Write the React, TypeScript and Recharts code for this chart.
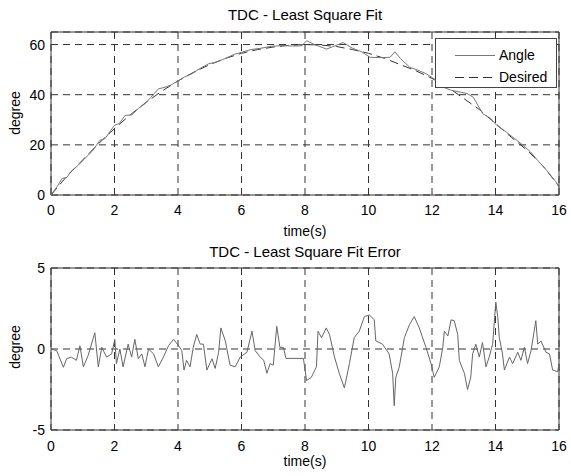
import {
  LineChart,
  Line,
  XAxis,
  YAxis,
  CartesianGrid,
  ReferenceArea,
  Legend,
} from 'recharts'

const X_TICKS = [0, 2, 4, 6, 8, 10, 12, 14, 16]
const FIT_TICKS = [0, 20, 40, 60]
const ERR_TICKS = [-5, 0, 5]

const ANGLE_T = [
  0, 0.2, 0.35, 0.5, 0.6, 0.86, 1.1, 1.3, 1.54, 1.7, 2.0, 2.15, 2.33, 2.55, 2.75, 2.96,
  3.15, 3.38, 3.6, 3.8, 4.01, 4.2, 4.43, 4.7, 4.96, 5.2, 5.5, 5.75, 6.0, 6.3, 6.6, 6.95,
  7.3, 7.6, 7.9, 8.05, 8.3, 8.68, 8.95, 9.2, 9.5, 9.8, 10.05, 10.4, 10.68, 10.83, 11.0,
  11.3, 11.55, 11.83, 12.1, 12.35, 12.62, 12.9, 13.1, 13.3, 13.6, 13.85, 14.04, 14.3,
  14.6, 14.85, 15.1, 15.35, 15.6, 15.9, 16,
]
const ANGLE = [
  0, 3.5, 6.6, 7, 9, 11.9, 15, 17.5, 21.8, 22.5, 27.8, 28.5, 31.7, 32, 34.5, 36.4,
  39, 42.3, 43, 44, 45.6, 47, 48.3, 50.5, 52.3, 53, 54.5, 56, 56.9, 58, 58.5, 59.3,
  59.6, 59.4, 59.5, 61.5, 60, 58.2, 59.5, 60.8, 58.5, 57, 54.9, 54.8, 54.9, 57.1, 54.5,
  50.9, 49.8, 48.3, 46, 43, 41.7, 41, 40.5, 39, 32.4, 30.5, 27.8, 25.5,
  22.5, 20, 17.2, 13.5, 10, 5.3, 3,
]

// desired trajectory
const DESIRED_T = [
  0, 0.5, 1, 1.5, 2, 2.5, 3, 3.5, 4, 4.5, 5, 5.5, 6, 6.5, 7, 7.5, 8,
  8.5, 9, 9.5, 10, 10.5, 11, 11.5, 12, 12.5, 13, 13.5, 14, 14.5, 15, 15.5, 16,
]
const DESIRED = [
  0, 7.5, 14, 20.5, 26.5, 32, 37, 41.5, 45.5, 49, 52, 54.5, 56.5, 58, 59, 59.7, 60,
  59.8, 59.2, 58, 56.5, 54.5, 52, 49.5, 46.5, 43, 38.5, 34, 28.5, 23, 17.8, 11.5, 3.5,
]

// fit error
const ERR_T = [
  0, 0.18, 0.39, 0.49, 0.64, 0.8, 0.91, 1.02, 1.17, 1.38, 1.49, 1.6, 1.75, 1.91, 2.01,
  2.06, 2.17, 2.27, 2.43, 2.54, 2.64, 2.75, 2.86, 2.96, 3.07, 3.23, 3.38, 3.54, 3.7,
  3.86, 4.02, 4.12, 4.19, 4.27, 4.38, 4.48, 4.59, 4.7, 4.8, 4.91, 5.07, 5.17, 5.28,
  5.35, 5.49, 5.64, 5.8, 5.96, 6.17, 6.33, 6.43, 6.59, 6.7, 6.8, 6.9, 7.0, 7.11, 7.21,
  7.32, 7.4, 7.95, 8.05, 8.2, 8.36, 8.41, 8.52, 8.67, 8.77, 8.93, 9.08, 9.24, 9.4,
  9.55, 9.71, 9.87, 10.03, 10.18, 10.23, 10.44, 10.65, 10.76, 10.81, 10.86, 10.97,
  11.13, 11.29, 11.44, 11.6, 11.81, 11.97, 12.07, 12.23, 12.34, 12.39, 12.5, 12.6,
  12.7, 12.81, 12.86, 13.02, 13.12, 13.22, 13.28, 13.38, 13.49, 13.59, 13.7, 13.8,
  13.91, 14.01, 14.07, 14.12, 14.22, 14.28, 14.44, 14.54, 14.7, 14.8, 14.91, 15.01,
  15.12, 15.27, 15.33, 15.43, 15.59, 15.7, 15.8, 15.96, 16.0,
]
const ERR_V = [
  0, -0.1, -1.13, -0.6, -0.5, -0.7, 0.2, -1.1, -0.4, 1.0, -1.1, 0.1, -0.5, -0.3, 0.6,
  -0.9, 0, -1.1, 0.3, -0.5, 0.6, -0.6, -0.3, -1.1, 0, -0.3, -1.1, -0.5, 0.2,
  0.6, 0.2, -0.1, -1.3, -0.7, -1.1, 0.1, 0.9, 0.3, 0.3, -1.3, -0.6, -1.2, -0.2,
  1.3, 0.5, -1.0, -1.1, -0.5, -0.2, 1.1, -0.1, -0.5, -0.7, -1.5, -0.9, -1.0, 1.4, 0.1,
  0.1, -0.58, -0.58, -1.95, -1.75, -1.1, 1.1, 0.7, 1.3, 0.9, -0.5, -1.5, -2.4, -0.9,
  0.7, 1.1, 2.0, 2.1, 1.8, 0.5, 0.3, -0.3, -1.5, -3.5, -1.75, -1.1,
  0.7, 1.5, 2.0, 1.3, 0.1, -0.9, -1.75, -1.1, 0.1, 1.1, 0.8, 1.8,
  1.75, 0.9, -0.7, -1.5, -2.5, -1.75, -0.3, 0.3, -0.5, 0.4, -1.1, -0.5,
  0.3, 2.9, 2.0, 0.7, -0.3, -1.3, -0.5, -0.9, -0.2, -0.7, 0.1, -0.9,
  -0.1, 1.75, 0.3, 0.5, -0.2, -0.3, -1.3, -1.4, -0.9,
]

const angleData = ANGLE_T.map((t, i) => ({ t, v: ANGLE[i] }))
const desiredData = DESIRED_T.map((t, i) => ({ t, v: DESIRED[i] }))
const errData = ERR_T.map((t, i) => ({ t, v: ERR_V[i] }))

const FONT = '"Liberation Sans", Arial, Helvetica, sans-serif'
const tickStyle = { fontSize: 14, fill: '#000', fontFamily: FONT }
const GRID_DASH = '7 5'

const textBase: React.CSSProperties = {
  position: 'absolute',
  fontFamily: FONT,
  color: '#000',
  whiteSpace: 'nowrap',
}

function FitLegend() {
  return (
    <div
      style={{
        position: 'relative',
        width: 122,
        height: 50,
        boxSizing: 'border-box',
        border: '1px solid #444',
        background: '#fff',
        fontFamily: FONT,
        fontSize: 14,
        color: '#000',
      }}
    >
      <svg width={122} height={50} style={{ position: 'absolute', left: -1, top: -1 }}>
        <line x1={20} x2={60} y1={17.5} y2={17.5} stroke="#777" strokeWidth={1} />
        <line x1={20} x2={60} y1={39.5} y2={39.5} stroke="#333" strokeWidth={1} strokeDasharray="9 5" />
      </svg>
      <span style={{ position: 'absolute', left: 63, top: 8, lineHeight: '16px' }}>Angle</span>
      <span style={{ position: 'absolute', left: 63, top: 30, lineHeight: '16px' }}>Desired</span>
    </div>
  )
}

export default function App() {
  return (
    <div style={{ position: 'absolute', left: 0, top: 0, width: 571, height: 476, background: '#fff' }}>
      <div style={{ position: 'absolute', left: 0, top: 0 }}>
        <LineChart width={571} height={238} margin={{ top: 32, right: 12, left: 0, bottom: 0 }}>
          <CartesianGrid stroke="#333" strokeDasharray={GRID_DASH} />
          <XAxis
            type="number"
            dataKey="t"
            domain={[0, 16]}
            ticks={X_TICKS}
            height={43}
            tickLine={false}
            axisLine={false}
            tickSize={7}
            tickMargin={3}
            tick={tickStyle}
          />
          <YAxis
            type="number"
            domain={[0, 65]}
            ticks={FIT_TICKS}
            width={51}
            tickLine={false}
            axisLine={false}
            tickSize={4}
            tickMargin={2}
            tick={tickStyle}
          />
          <ReferenceArea x1={0} x2={16} y1={0} y2={65} fill="none" fillOpacity={0} stroke="#333" strokeWidth={1} />
          <Line
            data={desiredData}
            dataKey="v"
            type="linear"
            stroke="#333"
            strokeWidth={1}
            strokeDasharray="9 5"
            dot={false}
            isAnimationActive={false}
          />
          <Line
            data={angleData}
            dataKey="v"
            type="linear"
            stroke="#777"
            strokeWidth={1}
            dot={false}
            isAnimationActive={false}
          />
          <Legend
            layout="horizontal"
            verticalAlign="middle"
            align="center"
            content={() => <FitLegend />}
            wrapperStyle={{ position: 'absolute', left: 435, top: 38, width: 122, height: 50 }}
          />
        </LineChart>
      </div>

      <div style={{ position: 'absolute', left: 0, top: 238 }}>
        <LineChart width={571} height={238} margin={{ top: 30, right: 12, left: 0, bottom: 0 }}>
          <CartesianGrid stroke="#333" strokeDasharray={GRID_DASH} />
          <XAxis
            type="number"
            dataKey="t"
            domain={[0, 16]}
            ticks={X_TICKS}
            height={46}
            tickLine={false}
            axisLine={false}
            tickSize={8}
            tickMargin={3}
            tick={tickStyle}
          />
          <YAxis
            type="number"
            domain={[-5, 5]}
            ticks={ERR_TICKS}
            width={51}
            tickLine={false}
            axisLine={false}
            tickSize={4}
            tickMargin={2}
            tick={tickStyle}
          />
          <ReferenceArea x1={0} x2={16} y1={-5} y2={5} fill="none" fillOpacity={0} stroke="#333" strokeWidth={1} />
          <Line
            data={errData}
            dataKey="v"
            type="linear"
            stroke="#666"
            strokeWidth={1}
            dot={false}
            isAnimationActive={false}
          />
        </LineChart>
      </div>

      <div style={{ ...textBase, left: 51, width: 508, top: 6, textAlign: 'center', fontSize: 15, lineHeight: '17px' }}>
        TDC - Least Square Fit
      </div>
      <div style={{ ...textBase, left: 51, width: 508, top: 223, textAlign: 'center', fontSize: 14, lineHeight: '16px' }}>
        time(s)
      </div>
      <div style={{ ...textBase, left: 51, width: 508, top: 243, textAlign: 'center', fontSize: 15, lineHeight: '17px' }}>
        TDC - Least Square Fit Error
      </div>
      <div style={{ ...textBase, left: 51, width: 508, top: 453, textAlign: 'center', fontSize: 14, lineHeight: '16px' }}>
        time(s)
      </div>
      <div
        style={{
          ...textBase,
          left: -15,
          top: 105,
          width: 60,
          height: 16,
          textAlign: 'center',
          fontSize: 14,
          lineHeight: '16px',
          transform: 'rotate(-90deg)',
        }}
      >
        degree
      </div>
      <div
        style={{
          ...textBase,
          left: -15,
          top: 339,
          width: 60,
          height: 16,
          textAlign: 'center',
          fontSize: 14,
          lineHeight: '16px',
          transform: 'rotate(-90deg)',
        }}
      >
        degree
      </div>
    </div>
  )
}
